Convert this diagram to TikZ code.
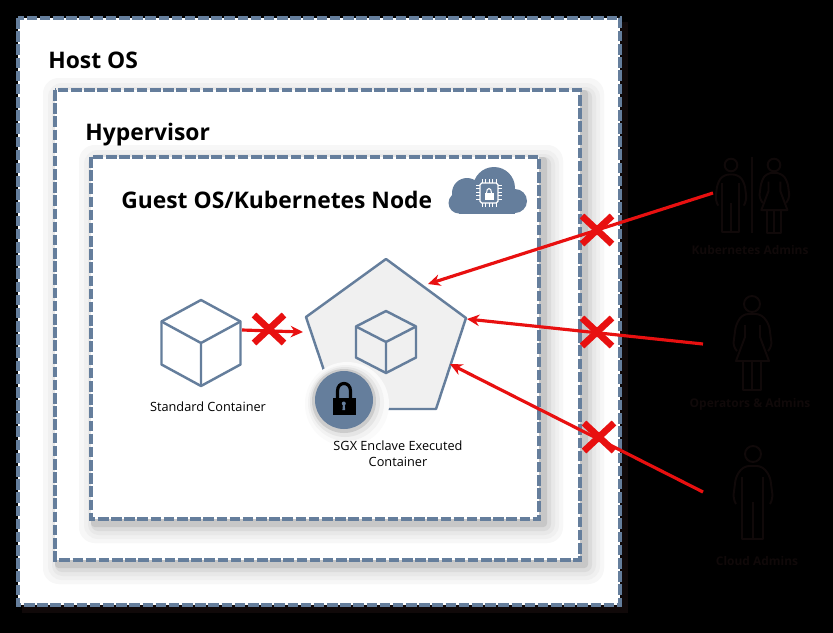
\documentclass[tikz,border=0pt]{standalone}
\usepackage{fontspec}
\usetikzlibrary{arrows.meta}
\setmainfont{Open Sans}
\definecolor{slate}{HTML}{657E9C}
\definecolor{crossred}{HTML}{E81010}
\definecolor{faint}{HTML}{100909}
\tikzset{
  dashbox/.style={draw=slate, line width=1.8pt, dash pattern=on 6pt off 1.5pt},
  slateline/.style={draw=slate, line width=1.4pt, line join=round},
  redarrow/.style={-{Stealth[length=7pt,width=6.5pt]}, draw=crossred, line width=1.8pt},
  crossbar/.style={draw=crossred, line width=3.8pt},
  figline/.style={draw=faint, line width=1.1pt, line join=round},
  title/.style={font=\bfseries\fontsize{13}{16}\selectfont, text=black, anchor=base west, inner sep=0pt},
  caption/.style={font=\fontsize{7.25}{9}\selectfont, text=black, align=center, inner sep=0pt},
  adminlabel/.style={font=\fontsize{6.8}{9}\selectfont\bfseries, text=faint, inner sep=0pt},
  man/.pic={
    \draw[figline] (0,0) circle (8);
    \draw[figline, rounded corners=3pt] (-17,50) -- (-20,45) -- (-17,22) -- (-9,12) -- (9,12) -- (17,22) -- (20,45) -- (17,50);
    \draw[figline] (-11,23) -- (-11,85) -- (10,85) -- (10,23);
    \draw[figline] (0,48) -- (0,85);
  },
  woman/.pic={
    \draw[figline] (0,0) circle (8);
    \draw[figline, rounded corners=3pt] (-15,47) -- (-19,43) -- (-16,20) -- (-9,10) -- (9,10) -- (17,20) -- (20,43) -- (16,47);
    \draw[figline] (-7,21) -- (-7,33) -- (-16,57) -- (17,57) -- (8,33) -- (8,21);
    \draw[figline] (-9,57) -- (-9,86) -- (9,86) -- (9,57);
    \draw[figline] (0,57) -- (0,86);
  },
  cube/.pic={
    \draw[slateline] (0,-1) -- (1,-0.5) -- (1,0.5) -- (0,1) -- (-1,0.5) -- (-1,-0.5) -- cycle;
    \draw[slateline] (-1,-0.5) -- (0,0) -- (1,-0.5) (0,0) -- (0,1);
  },
}
% box with its soft shadow: x1 y1 x2 y2
\newcommand{\shadowbox}[4]{
  \fill[rounded corners=9pt, black!3] (#1-12,#2-12) rectangle (#3+24,#4+24);
  \fill[rounded corners=8pt, black!6] (#1-7,#2-7) rectangle (#3+20,#4+20);
  \fill[rounded corners=6pt, black!9] (#1-3,#2-3) rectangle (#3+16,#4+16);
  \fill[rounded corners=4pt, black!14] (#1,#2) rectangle (#3+12,#4+12);
  \fill[rounded corners=2pt, black!22] (#1,#2) rectangle (#3+8,#4+8);
  \fill[white] (#1,#2) rectangle (#3,#4);
  \draw[dashbox] (#1,#2) rectangle (#3,#4);
}
% red cross over an arrow
\newcommand{\redcross}[2]{
  \draw[crossbar] (#1-15,#2-14) -- (#1+15,#2+14);
  \draw[crossbar] (#1-15,#2+14) -- (#1+15,#2-14);
}
\begin{document}
\begin{tikzpicture}[>=stealth, x=0.02cm, y=-0.02cm]
  \fill[black] (0,0) rectangle (833,633);
  \useasboundingbox (0,0) rectangle (833,633);
  % host box
  \fill[faint] (22,22) rectangle (628,613);
  \fill[white] (18,18) rectangle (620,605);
  \draw[dashbox] (18,18) rectangle (620,605);
  \shadowbox{55}{90}{580}{560}
  \shadowbox{91}{157}{539}{519}
  \node[title] (hostos) at (48,68) {Host OS};
  \node[title] (hypervisor) at (85,140) {Hypervisor};
  \node[title] (guestos) at (121,208) {Guest OS/Kubernetes Node};
  % cloud
  \fill[slate] (494,188) circle (21);
  \fill[slate] (467,193) circle (15);
  \fill[slate] (459,203) circle (10.5);
  \fill[slate] (515,201) circle (12);
  \fill[slate] (459,190) rectangle (515,213.5);
  \draw[white, line width=0.7pt, rounded corners=1pt] (480,183) rectangle (498,203);
  \foreach \t in {0,1,2,3,4}{
    \draw[white, line width=0.5pt] (482+\t*3.5,179) -- (482+\t*3.5,183) (482+\t*3.5,203) -- (482+\t*3.5,207);
    \draw[white, line width=0.5pt] (476,185+\t*3.5) -- (480,185+\t*3.5) (498,185+\t*3.5) -- (502,185+\t*3.5);
  }
  \fill[white] (484.5,193) rectangle (493.5,200);
  \draw[white, line width=0.6pt] (486.5,193) .. controls (486.5,187) and (491.5,187) .. (491.5,193);
  % standard container
  \pic[xscale=39.5, yscale=43] at (201,343) {cube};
  \node[caption] (stdlabel) at (208,407) {Standard Container};
  % enclave
  \draw[slateline, fill=black!6] (386,259) -- (466,318) -- (436,409) -- (337,409) -- (306,317) -- cycle;
  \pic[xscale=30, yscale=31] at (386,342) {cube};
  \fill[black!2] (347,404) circle (42);
  \fill[black!5] (346,403) circle (38);
  \fill[black!10] (345,402) circle (35);
  \fill[black!20] (344,401) circle (32);
  \fill[slate] (344,400) circle (29);
  \draw[black, line width=1.8pt] (337.5,399) -- (337.5,391) .. controls (337.5,381) and (350.5,381) .. (350.5,391) -- (350.5,399);
  \fill[black] (332.5,398) rectangle (356,414.5);
  \fill[slate] (343.8,403.5) circle (2);
  \fill[slate] (343,404) -- (344.6,404) -- (345.2,410) -- (342.4,410) -- cycle;
  \node[caption] (sgxlabel) at (398,454) {SGX Enclave Executed\\Container};
  % admins
  \pic[scale=0.79] at (731,165) {man};
  \draw[figline] (752,157) -- (752,233);
  \pic[scale=0.79] at (774,165) {woman};
  \node[adminlabel] (kubeadmins) at (750,250) {Kubernetes Admins};
  \pic at (752,304) {woman};
  \node[adminlabel] (opadmins) at (750,404) {Operators \& Admins};
  \pic at (753,454) {man};
  \node[adminlabel] (cloudadmins) at (757,561) {Cloud Admins};
  % blocked paths
  \coordinate (kubefrom) at (713,193);
  \coordinate (kubeto) at (428,284);
  \coordinate (opfrom) at (703,344);
  \coordinate (opto) at (467,319);
  \coordinate (cloudfrom) at (703,492);
  \coordinate (cloudto) at (450,364);
  \coordinate (stdfrom) at (242,330);
  \coordinate (stdto) at (303,332);
  \draw[redarrow] (kubefrom) -- (kubeto);
  \draw[redarrow] (opfrom) -- (opto);
  \draw[redarrow] (cloudfrom) -- (cloudto);
  \draw[redarrow] (stdfrom) -- (stdto);
  \redcross{597}{230}
  \redcross{597}{332}
  \redcross{599}{437}
  \redcross{269}{329}
\end{tikzpicture}
\end{document}
